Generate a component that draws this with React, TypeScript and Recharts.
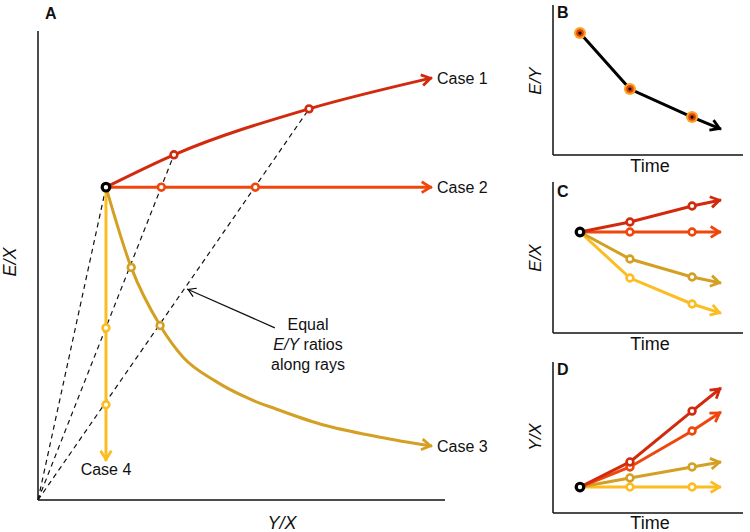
import React from "react";
import { LineChart, Line, XAxis, YAxis, ReferenceLine } from "recharts";

type Pt = { x: number; y: number };

const FONT = '"Liberation Sans", Arial, Helvetica, sans-serif';

const C1 = "#d22a0c";
const C2 = "#f0460c";
const C3 = "#d4a024";
const C4 = "#fbbd22";

// panel A: E/X against Y/X
const startA: Pt[] = [{ x: 1.67, y: 6.67 }];
const case1A: Pt[] = [
  { x: 1.67, y: 6.67 },
  { x: 3.34, y: 7.36 },
  { x: 6.66, y: 8.34 },
  { x: 9.68, y: 9.0 },
];
const case2A: Pt[] = [
  { x: 1.67, y: 6.67 },
  { x: 3.03, y: 6.67 },
  { x: 5.34, y: 6.67 },
  { x: 9.68, y: 6.67 },
];
const case3A: Pt[] = [
  { x: 1.67, y: 6.67 },
  { x: 2.29, y: 4.96 },
  { x: 3.0, y: 3.72 },
  { x: 3.56, y: 3.05 },
  { x: 4.35, y: 2.54 },
  { x: 5.16, y: 2.17 },
  { x: 5.85, y: 1.94 },
  { x: 6.93, y: 1.62 },
  { x: 8.4, y: 1.34 },
  { x: 9.68, y: 1.15 },
];
const case4A: Pt[] = [
  { x: 1.67, y: 6.67 },
  { x: 1.67, y: 3.67 },
  { x: 1.67, y: 2.03 },
  { x: 1.67, y: 0.83 },
];
// rays from the origin through points of equal E/Y
const rayEndsA: Pt[] = [
  { x: 1.67, y: 6.67 },
  { x: 3.34, y: 7.36 },
  { x: 6.66, y: 8.34 },
];
const noteArrowA: Pt[] = [
  { x: 5.82, y: 3.67 },
  { x: 3.66, y: 4.5 },
];

// panels B-D: against time
const times = [1.42, 4.05, 7.32, 8.84];
const eyB = [8.13, 4.4, 2.53, 1.73];
const case1C = [6.69, 7.35, 8.41, 8.81];
const case2C = [6.69, 6.69, 6.69, 6.69];
const case3C = [6.69, 4.9, 3.71, 3.31];
const case4C = [6.69, 3.64, 1.92, 1.32];
const case1D = [1.72, 3.38, 6.75, 8.28];
const case2D = [1.72, 3.05, 5.43, 6.69];
const case3D = [1.72, 2.32, 3.05, 3.38];
const case4D = [1.72, 1.72, 1.72, 1.72];

const toSeries = (vals: number[]) => vals.map((v, i) => ({ x: times[i], y: v }));

const startDot = (p: any) => (
  <circle key={`s${p.index}`} cx={p.cx} cy={p.cy} r={3.8} fill="#fff" stroke="#000" strokeWidth={3.2} />
);

const markDot = (color: string) => (p: any) =>
  p.index === 1 || p.index === 2 ? (
    <circle key={`m${p.index}`} cx={p.cx} cy={p.cy} r={3.4} fill="#fff" stroke={color} strokeWidth={2.6} />
  ) : (
    <g key={`m${p.index}`} />
  );

const bDot = (p: any) =>
  p.index < 3 ? (
    <g key={`b${p.index}`}>
      <circle cx={p.cx} cy={p.cy} r={6} fill="#f6a623" />
      <circle cx={p.cx} cy={p.cy} r={3.8} fill="#e2400e" />
      <circle cx={p.cx} cy={p.cy} r={1.6} fill="#000" />
    </g>
  ) : (
    <g key={`b${p.index}`} />
  );

const Arrow = ({ id, color, w = 2.6, size = 13 }: { id: string; color: string; w?: number; size?: number }) => (
  <marker
    id={id}
    viewBox="0 0 12 12"
    refX={11.5}
    refY={6}
    markerWidth={size}
    markerHeight={size}
    markerUnits="userSpaceOnUse"
    orient="auto"
    style={{ overflow: "visible" }}
  >
    <path d="M2,1 L10,6 L2,11" fill="none" stroke={color} strokeWidth={w} />
  </marker>
);

const caseLine = (data: Pt[], color: string, marker: string, type: "monotone" | "linear", key: string) => (
  <Line
    key={key}
    data={data}
    dataKey="y"
    type={type}
    stroke={color}
    strokeWidth={3}
    dot={markDot(color)}
    activeDot={false}
    markerEnd={`url(#${marker})`}
    isAnimationActive={false}
  />
);

const frameLines = [
  <ReferenceLine key="fx" x={0} stroke="#111" strokeWidth={1.5} ifOverflow="visible" />,
  <ReferenceLine key="fy" y={0} stroke="#111" strokeWidth={1.5} ifOverflow="visible" />,
];

const SmallPanel = ({ top, height, mt, mb, children }: any) => (
  <div style={{ position: "absolute", left: 540, top }}>
    <LineChart width={210} height={height} margin={{ top: mt, right: 7, bottom: mb, left: 13 }}>
      <XAxis type="number" dataKey="x" domain={[0, 10]} hide />
      <YAxis type="number" dataKey="y" domain={[0, 10]} hide />
      {frameLines}
      {children}
    </LineChart>
  </div>
);

export default function App() {
  const t = { fontFamily: FONT, fill: "#111" };
  return (
    <div style={{ position: "absolute", left: 0, top: 0, width: 750, height: 532, background: "#fff", fontFamily: FONT }}>
      <svg width={0} height={0} style={{ position: "absolute" }}>
        <defs>
          <Arrow id="ar1" color={C1} />
          <Arrow id="ar2" color={C2} />
          <Arrow id="ar3" color={C3} />
          <Arrow id="ar4" color={C4} />
          <Arrow id="arK" color="#000" />
          <Arrow id="arN" color="#000" w={1.3} size={11} />
        </defs>
      </svg>

      {/* panel A */}
      <div style={{ position: "absolute", left: 0, top: 0 }}>
        <LineChart width={540} height={532} margin={{ top: 31, right: 95, bottom: 32, left: 38 }}>
          <XAxis type="number" dataKey="x" domain={[0, 10]} hide />
          <YAxis type="number" dataKey="y" domain={[0, 10]} hide />
          {frameLines}
          {rayEndsA.map((end, i) => (
            <Line
              key={`ray${i}`}
              data={[{ x: 0, y: 0 }, end]}
              dataKey="y"
              type="linear"
              stroke="#111"
              strokeWidth={1.2}
              strokeDasharray="5 4"
              dot={false}
              activeDot={false}
              isAnimationActive={false}
            />
          ))}
          <Line
            data={noteArrowA}
            dataKey="y"
            type="linear"
            stroke="#111"
            strokeWidth={1.2}
            dot={false}
            activeDot={false}
            markerEnd="url(#arN)"
            isAnimationActive={false}
          />
          {caseLine(case4A, C4, "ar4", "linear", "c4")}
          {caseLine(case3A, C3, "ar3", "monotone", "c3")}
          {caseLine(case2A, C2, "ar2", "linear", "c2")}
          {caseLine(case1A, C1, "ar1", "monotone", "c1")}
          <Line data={startA} dataKey="y" stroke="none" dot={startDot} activeDot={false} isAnimationActive={false} />
        </LineChart>
      </div>

      {/* panel B */}
      <SmallPanel top={0} height={170} mt={5} mb={15}>
        <Line
          data={toSeries(eyB)}
          dataKey="y"
          type="linear"
          stroke="#000"
          strokeWidth={3}
          dot={bDot}
          activeDot={false}
          markerEnd="url(#arK)"
          isAnimationActive={false}
        />
      </SmallPanel>

      {/* panel C */}
      <SmallPanel top={170} height={180} mt={12} mb={17}>
        {caseLine(toSeries(case4C), C4, "ar4", "linear", "c4")}
        {caseLine(toSeries(case3C), C3, "ar3", "linear", "c3")}
        {caseLine(toSeries(case2C), C2, "ar2", "linear", "c2")}
        {caseLine(toSeries(case1C), C1, "ar1", "linear", "c1")}
        <Line data={toSeries(case1C).slice(0, 1)} dataKey="y" stroke="none" dot={startDot} activeDot={false} isAnimationActive={false} />
      </SmallPanel>

      {/* panel D */}
      <SmallPanel top={350} height={182} mt={12} mb={19}>
        {caseLine(toSeries(case4D), C4, "ar4", "linear", "c4")}
        {caseLine(toSeries(case3D), C3, "ar3", "linear", "c3")}
        {caseLine(toSeries(case2D), C2, "ar2", "linear", "c2")}
        {caseLine(toSeries(case1D), C1, "ar1", "linear", "c1")}
        <Line data={toSeries(case1D).slice(0, 1)} dataKey="y" stroke="none" dot={startDot} activeDot={false} isAnimationActive={false} />
      </SmallPanel>

      {/* text */}
      <svg width={750} height={532} style={{ position: "absolute", left: 0, top: 0, pointerEvents: "none" }}>
        <g style={t as any}>
          <text x={45} y={19} fontSize={16} fontWeight="bold">A</text>
          <text x={557} y={18} fontSize={16} fontWeight="bold">B</text>
          <text x={557} y={197} fontSize={16} fontWeight="bold">C</text>
          <text x={557} y={375} fontSize={16} fontWeight="bold">D</text>

          <text transform="translate(16,262) rotate(-90)" textAnchor="middle" fontSize={18} fontStyle="italic">E/X</text>
          <text x={282} y={529} textAnchor="middle" fontSize={18} fontStyle="italic">Y/X</text>

          <text x={437} y={84} fontSize={16}>Case 1</text>
          <text x={437} y={193} fontSize={16}>Case 2</text>
          <text x={437} y={452} fontSize={16}>Case 3</text>
          <text x={106} y={475} textAnchor="middle" fontSize={16}>Case 4</text>

          <text x={308} y={330} textAnchor="middle" fontSize={16}>Equal</text>
          <text x={308} y={350} textAnchor="middle" fontSize={16}>
            <tspan fontStyle="italic">E/Y</tspan> ratios
          </text>
          <text x={308} y={370} textAnchor="middle" fontSize={16}>along rays</text>

          <text transform="translate(541,81) rotate(-90)" textAnchor="middle" fontSize={17} fontStyle="italic">E/Y</text>
          <text transform="translate(541,258) rotate(-90)" textAnchor="middle" fontSize={17} fontStyle="italic">E/X</text>
          <text transform="translate(541,437) rotate(-90)" textAnchor="middle" fontSize={17} fontStyle="italic">Y/X</text>

          <text x={650} y={172} textAnchor="middle" fontSize={18}>Time</text>
          <text x={650} y={350} textAnchor="middle" fontSize={18}>Time</text>
          <text x={650} y={529} textAnchor="middle" fontSize={18}>Time</text>
        </g>
      </svg>
    </div>
  );
}
